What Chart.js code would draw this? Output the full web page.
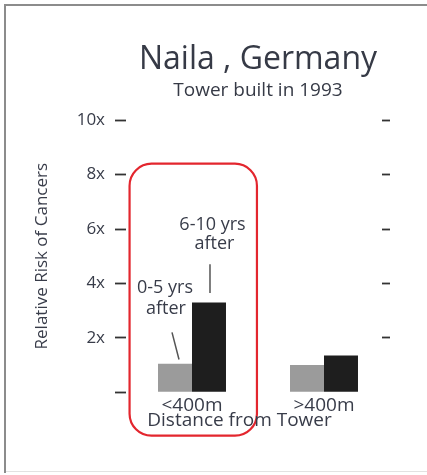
<!DOCTYPE html>
<html><head><meta charset="utf-8">
<script src="https://cdn.jsdelivr.net/npm/chart.js@4/dist/chart.umd.min.js"></script>
<style>html,body{margin:0;padding:0;background:#fff;}#wrap{width:427px;height:475px;}</style>
</head><body><div id="wrap"><canvas id="c" width="427" height="475"></canvas></div>
<script>
// ---- data ----
const categories = ['<400m', '>400m'];
const seriesNames = ['0-5 yrs after', '6-10 yrs after'];
const series0to5 = [1.05, 1.0];
const series6to10 = [3.3, 1.35];
const yTickValues = [0, 2, 4, 6, 8, 10];
const yTickLabels = ['', '2x', '4x', '6x', '8x', '10x'];
const titleText = 'Naila , Germany';
const subtitleText = 'Tower built in 1993';
const yAxisTitle = 'Relative Risk of Cancers';
const xAxisTitle = 'Distance from Tower';

const FONT = "'Open Sans', 'Noto Sans', sans-serif";
const TXT = '#383c49';

const overlay = {
  id: 'overlay',
  afterDraw(chart) {
    const ctx = chart.ctx;
    const xs = chart.scales.x, ys = chart.scales.y;
    const cw = xs.width / categories.length;
    const c0 = xs.getPixelForValue(0);
    const g0 = chart.getDatasetMeta(0).data[0];
    const b0 = chart.getDatasetMeta(1).data[0];
    ctx.save();
    // frame
    ctx.strokeStyle = '#8c8c8c'; ctx.lineWidth = 2;
    ctx.beginPath(); ctx.moveTo(5, 473); ctx.lineTo(5, 5); ctx.lineTo(427, 5); ctx.stroke();
    ctx.strokeStyle = '#e2e2e2'; ctx.lineWidth = 1;
    ctx.beginPath(); ctx.moveTo(6, 471.5); ctx.lineTo(427, 471.5); ctx.stroke();
    // red rounded rectangle
    const L = c0 - 0.473 * cw, R = c0 + 0.492 * cw;
    const T = ys.getPixelForValue(8.4), B = ys.getPixelForValue(-1.6);
    ctx.strokeStyle = '#e3262e'; ctx.lineWidth = 2.2;
    ctx.beginPath(); ctx.roundRect(L, T, R - L, B - T, 22); ctx.stroke();
    // leader lines
    ctx.strokeStyle = '#555'; ctx.lineWidth = 1.5;
    ctx.beginPath();
    ctx.moveTo(b0.x + 1, ys.getPixelForValue(4.7)); ctx.lineTo(b0.x + 1, ys.getPixelForValue(3.65));
    ctx.moveTo(g0.x - 3, ys.getPixelForValue(2.2)); ctx.lineTo(g0.x + 4, ys.getPixelForValue(1.2));
    ctx.stroke();
    // annotation texts
    ctx.fillStyle = TXT; ctx.textAlign = 'center'; ctx.textBaseline = 'middle';
    ctx.font = "18px " + FONT;
    ctx.fillText('6-10 yrs', b0.x + 3.5, ys.getPixelForValue(6.15));
    ctx.fillText('after', b0.x + 5.5, ys.getPixelForValue(5.44));
    ctx.fillText('0-5 yrs', g0.x - 10, ys.getPixelForValue(3.85));
    ctx.fillText('after', g0.x - 9, ys.getPixelForValue(3.08));
    // x axis title
    ctx.font = "19px " + FONT;
    ctx.fillText(xAxisTitle, c0 + 0.36 * cw, ys.getPixelForValue(-1.06));
    ctx.restore();
  }
};

const tickSetter = s => { s.ticks = yTickValues.map(v => ({ value: v })); };

new Chart(document.getElementById('c'), {
  type: 'bar',
  data: {
    labels: categories,
    datasets: [
      { label: seriesNames[0], data: series0to5, backgroundColor: '#9b9b9b', borderWidth: 0, yAxisID: 'y' },
      { label: seriesNames[1], data: series6to10, backgroundColor: '#1e1e1e', borderWidth: 0, yAxisID: 'y' }
    ]
  },
  options: {
    responsive: false, devicePixelRatio: 1, animation: false,
    layout: { padding: { left: 6, right: 36, top: 41, bottom: 56 } },
    datasets: { bar: { categoryPercentage: 0.515, barPercentage: 1.0 } },
    plugins: {
      legend: { display: false }, tooltip: { enabled: false },
      title: { display: true, text: titleText, fullSize: false, color: '#363a46',
        font: { family: FONT, size: 32, weight: 'normal' }, padding: { top: 0, bottom: 0 } },
      subtitle: { display: true, text: subtitleText, fullSize: false, color: '#363a46',
        font: { family: FONT, size: 19, weight: 'normal' }, padding: { top: 0, bottom: 18 } }
    },
    scales: {
      x: {
        type: 'category', offset: true,
        grid: { display: false, drawTicks: false }, border: { display: false },
        ticks: { color: TXT, font: { family: FONT, size: 19 }, padding: 2 }
      },
      y: {
        position: 'left', min: 0, max: 10,
        afterBuildTicks: tickSetter,
        afterFit: s => { s.width = 120; },
        border: { display: false },
        grid: { drawOnChartArea: false, drawTicks: true, tickLength: 11, tickColor: '#333', tickWidth: 1.8 },
        ticks: { color: TXT, font: { family: FONT, size: 17 }, padding: 10,
          callback: v => yTickLabels[yTickValues.indexOf(v)] },
        title: { display: true, text: yAxisTitle, color: TXT,
          font: { family: FONT, size: 17 }, padding: { top: 26, bottom: 26 } }
      },
      y2: {
        position: 'right', min: 0, max: 10,
        afterBuildTicks: tickSetter,
        afterFit: s => { s.width = 1; },
        border: { display: false },
        grid: { drawOnChartArea: false, drawTicks: true, tickLength: -8, tickWidth: 1.8,
          tickColor: ctx => (ctx.tick && ctx.tick.value === 0) ? 'rgba(0,0,0,0)' : '#333' },
        ticks: { display: false }
      }
    }
  },
  plugins: [overlay]
});
</script>
</body></html>
